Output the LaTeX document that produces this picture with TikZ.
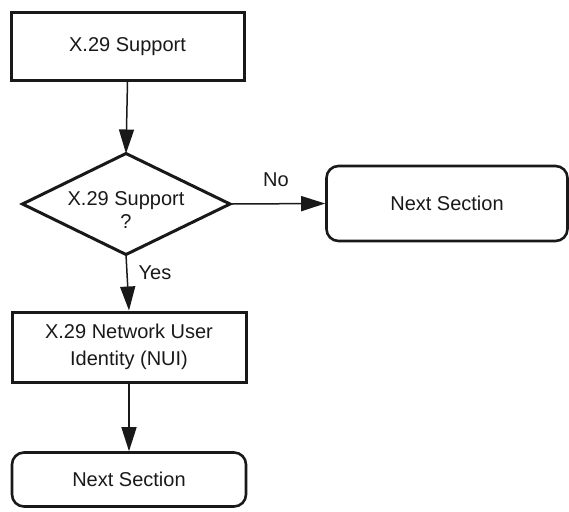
\documentclass[tikz,border=0pt]{standalone}
\usepackage{fontspec}
\setmainfont{Liberation Sans}
\usetikzlibrary{arrows.meta}
\begin{document}
\begin{tikzpicture}[x=1pt,y=-1pt,
  every node/.style={font=\fontsize{20}{27}\selectfont, text=black!90},
  procbox/.style={draw=black!90, line width=3pt, inner sep=0pt, align=center},
  termbox/.style={draw=black!90, line width=2.6pt, rounded corners=12pt, inner sep=0pt},
  flow/.style={draw=black!90, line width=1.5pt, -{Triangle[length=24pt,width=15pt]}},
  lbl/.style={font=\fontsize{20}{24}\selectfont}]
\useasboundingbox (0,0) rectangle (569,511);
\node[procbox, minimum width=233pt, minimum height=67pt] (s) at (127.5,46.5) {X.29 Support};
\coordinate (dt) at (126,153.5);
\coordinate (dl) at (22.5,204);
\coordinate (dr) at (230,204);
\coordinate (db) at (126,254.5);
\draw[draw=black!90, line width=3pt, line join=miter] (dl) -- (dt) -- (dr) -- (db) -- cycle;
\node[align=center] (dtext) at (126,210) {X.29 Support\\[-4pt]?};
\node[termbox, minimum width=241pt, minimum height=75pt] (n1) at (447,203.5) {Next Section};
\node[procbox, minimum width=234pt, minimum height=70pt] (u) at (129,347) {X.29 Network User\\Identity (NUI)};
\node[termbox, minimum width=234pt, minimum height=54pt] (n2) at (129,479.5) {Next Section};
\draw[flow] (s.south) -- (dt);
\draw[flow] (dr) ++(2,0) -- (n1.west);
\draw[flow] (db) -- (u.north);
\draw[flow] (u.south) -- (n2.north);
\node[lbl] (no) at (276,180) {No};
\node[lbl] (yes) at (155,273) {Yes};
\end{tikzpicture}
\end{document}
